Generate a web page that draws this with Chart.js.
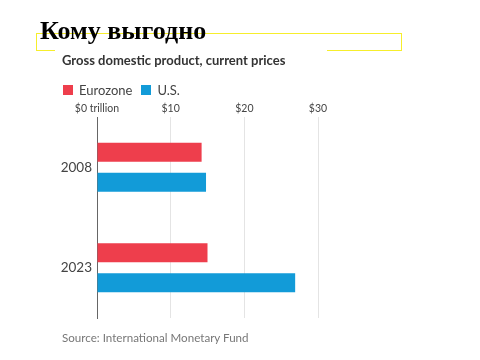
<!DOCTYPE html>
<html>
<head>
<meta charset="utf-8">
<script src="https://cdn.jsdelivr.net/npm/chart.js@4/dist/chart.umd.min.js"></script>
<style>
  html, body { margin: 0; padding: 0; background: #fff; }
  #wrap { position: relative; width: 480px; height: 360px; overflow: hidden; }
  #chart { position: absolute; left: 0; top: 0; }
  .frame { position: absolute; left: 36px; top: 33px; width: 364px; height: 16px;
    border: 1.7px solid #f6ee2c; }
  .gap { position: absolute; left: 55px; top: 47px; width: 272px; height: 7px; background: #fff; }
  .title { position: absolute; left: 40px; top: 16px; line-height: 26px;
    font: bold 26px "Liberation Serif", "DejaVu Serif", serif; color: #000; white-space: nowrap; }
  .sub { position: absolute; left: 62px; top: 52px; line-height: 13px; white-space: nowrap;
    font: bold 13px "Lato", sans-serif; color: #333; }
  .legend { position: absolute; left: 63px; top: 82px; line-height: 13px; white-space: nowrap;
    font: 13px "Lato", sans-serif; color: #444; }
  .legend span.sw { display: inline-block; width: 10px; height: 10px; vertical-align: baseline; margin-right: 6px; }
  .legend span.it { margin-right: 9px; }
  .source { position: absolute; left: 62px; top: 331px; line-height: 14px; white-space: nowrap;
    font: 11.6px "Lato", sans-serif; color: #777; }
</style>
</head>
<body>
<div id="wrap">
  <canvas id="chart" width="480" height="360"></canvas>
  <div class="frame"></div>
  <div class="gap"></div>
  <div class="title">Кому выгодно</div>
  <div class="sub">Gross domestic product, current prices</div>
  <div class="legend" id="legend"></div>
  <div class="source">Source: International Monetary Fund</div>
</div>
<script>
"use strict";

// GDP, current prices, trillions of dollars
const YEARS = ["2008", "2023"];
const EUROZONE = [14.2, 15.0];
const US = [14.8, 26.9];
const X_TICKS = [0, 10, 20, 30];

const RED = "#ee3e4c";
const BLUE = "#129bd8";

const $ = (id) => document.getElementById(id);

function buildLegend(sets) {
  $("legend").innerHTML = sets.map((s) =>
    `<span class="sw" style="background:${s.backgroundColor}"></span><span class="it">${s.label}</span>`
  ).join("");
}

const datasets = [
  { label: "Eurozone", data: EUROZONE, backgroundColor: RED },
  { label: "U.S.", data: US, backgroundColor: BLUE },
];

new Chart($("chart"), {
  type: "bar",
  data: { labels: YEARS, datasets },
  options: {
    indexAxis: "y",
    responsive: false,
    animation: false,
    layout: { padding: { top: 100, left: 0, right: 162, bottom: 42 } },
    datasets: { bar: { categoryPercentage: 0.6, barPercentage: 0.633 } },
    plugins: { legend: { display: false }, tooltip: { enabled: false } },
    scales: {
      x: {
        position: "top",
        min: 0,
        max: 30,
        afterBuildTicks: (s) => { s.ticks = X_TICKS.map((v) => ({ value: v })); },
        afterFit: (s) => { s.height = 17; },
        ticks: {
          padding: 2,
          color: "#444",
          font: { family: "Lato", size: 10.5 },
          callback: (v) => (v === 0 ? "$0 trillion" : "$" + v),
        },
        grid: { color: "#e4e4e4", drawTicks: false },
        border: { display: false },
      },
      y: {
        afterFit: (s) => { s.width = 97; },
        ticks: { padding: 5, color: "#444", font: { family: "Lato", size: 13.5 } },
        grid: { display: false, drawTicks: false },
        border: { display: true, color: "#666", width: 1 },
      },
    },
  },
});

buildLegend(datasets);
</script>
</body>
</html>
